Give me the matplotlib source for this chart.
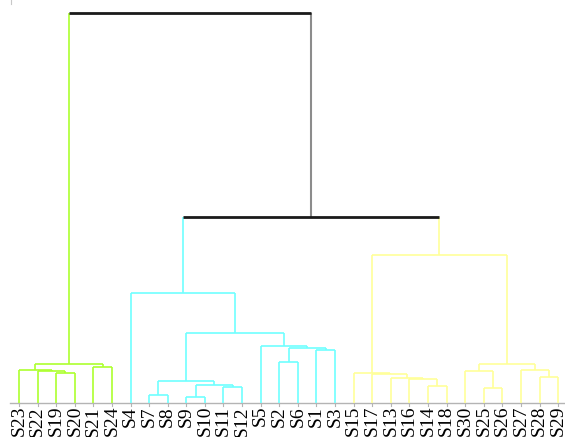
import matplotlib
matplotlib.use("Agg")
import matplotlib.pyplot as plt

# leaf labels in the order they appear along the bottom
leaves = ["S23", "S22", "S19", "S20", "S21", "S24", "S4", "S7", "S8", "S9",
          "S10", "S11", "S12", "S5", "S2", "S6", "S1", "S3", "S15", "S17",
          "S13", "S16", "S14", "S18", "S30", "S25", "S26", "S27", "S28", "S29"]

# cluster membership (three groups cut from the tree)
cluster_a = ["S23", "S22", "S19", "S20", "S21", "S24"]
cluster_b = ["S4", "S7", "S8", "S9", "S10", "S11", "S12", "S5", "S2", "S6", "S1", "S3"]
cluster_c = ["S15", "S17", "S13", "S16", "S14", "S18", "S30", "S25", "S26", "S27", "S28", "S29"]

# merges, in order: node name, left child, right child, height
merge_names = ["g1", "g2", "g3", "g4", "g5",
               "c1", "c2", "c3", "c4", "c5", "c6", "c7", "c8", "c9", "c10", "c11",
               "y1", "y2", "y3", "y4", "y5", "y6", "y7", "y8", "y9", "y10", "y11",
               "t1", "t2"]
merge_left = ["S19", "S22", "S23", "S21", "g3",
              "S7", "S9", "S11", "c2", "c1", "S2", "S1", "c6", "S5", "c5", "S4",
              "S14", "S16", "S13", "S17", "S15", "S25", "S30", "S28", "S27", "y7", "y5",
              "c11", "g5"]
merge_right = ["S20", "g1", "g2", "S24", "g4",
               "S8", "S10", "S12", "c3", "c4", "S6", "S3", "c7", "c8", "c9", "c10",
               "S18", "y1", "y2", "y3", "y4", "S26", "y6", "S29", "y8", "y9", "y10",
               "y11", "t1"]
merge_height = [29.7, 32.0, 33.3, 35.7, 38.7,
                8.0, 5.7, 16.3, 17.7, 22.0, 41.3, 53.0, 54.7, 57.0, 70.3, 110.3,
                17.3, 24.0, 25.0, 29.0, 30.3, 15.3, 32.0, 26.3, 33.0, 39.0, 148.3,
                186.0, 390.0]

colors = {"a": "#adff2f", "b": "#70ffff", "c": "#ffff99"}


def main():
    fig = plt.figure(figsize=(5.65, 4.37), dpi=100)
    ax = fig.add_axes([0, 0, 1, 1])
    ax.set_axis_off()

    pos = {lab: float(i) for i, lab in enumerate(leaves)}
    hgt = {lab: 0.0 for lab in leaves}
    members = {lab: {lab} for lab in leaves}
    for name, l, r, h in zip(merge_names, merge_left, merge_right, merge_height):
        pos[name] = (pos[l] + pos[r]) / 2
        hgt[name] = h
        members[name] = members[l] | members[r]

    def node_color(node):
        m = members[node]
        for key, grp in (("a", cluster_a), ("b", cluster_b), ("c", cluster_c)):
            if m <= set(grp):
                return colors[key]
        return None

    for name, l, r, h in zip(merge_names, merge_left, merge_right, merge_height):
        col = node_color(name)
        # vertical edges down to each child
        for ch in (l, r):
            ccol = node_color(ch)
            ax.plot([pos[ch], pos[ch]], [hgt[ch], h],
                    color=ccol if ccol else "#8c8c8c", lw=1.2 if ccol else 1.5,
                    solid_capstyle="butt", zorder=2)
        # horizontal bar joining the children
        ax.plot([pos[l], pos[r]], [h, h],
                color=col if col else "#1a1a1a", lw=1.2 if col else 2.0,
                solid_capstyle="butt", zorder=3)

    # baseline with small ticks under each leaf
    ax.plot([-0.48, 30.0], [0, 0], color="#b4b4b4", lw=1.0, zorder=1)
    for i in range(len(leaves)):
        ax.plot([i, i], [0, -3], color="#b4b4b4", lw=0.8, zorder=1)
    ax.plot([-0.43, -0.43], [399, 403], color="#c8c8c8", lw=0.8)

    for i, lab in enumerate(leaves):
        ax.text(i, -3.0, lab, rotation=90, ha="center", va="top",
                fontfamily="Liberation Serif", fontsize=14, color="black")

    ax.set_xlim(-1.022, 29.37)
    ax.set_ylim(-34, 403)
    fig.savefig("out.png", dpi=100)


if __name__ == "__main__":
    main()
